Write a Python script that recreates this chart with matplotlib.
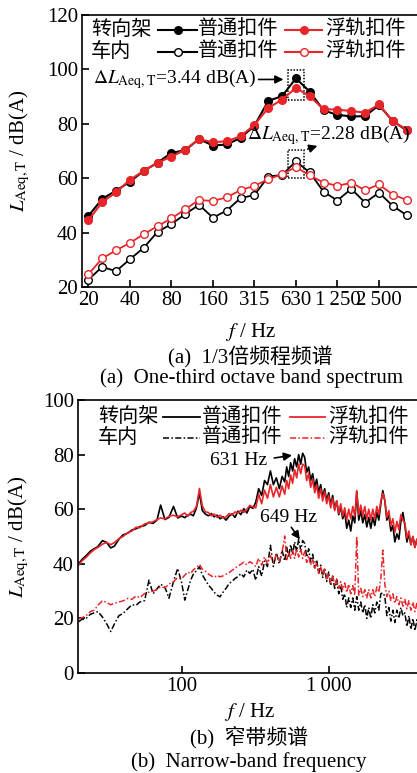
import matplotlib
matplotlib.use('Agg')
import matplotlib.pyplot as plt
from matplotlib.lines import Line2D
from matplotlib.patches import Rectangle
from matplotlib.ticker import NullLocator

plt.rcParams['font.family'] = ['Liberation Serif', 'Noto Sans CJK SC']
plt.rcParams['mathtext.fontset'] = 'stix'

RED = '#e8262a'

# (a) 1/3 octave band spectrum
bands = ['20', '25', '31.5', '40', '50', '63', '80', '100', '125', '160', '200', '250',
         '315', '400', '500', '630', '800', '1000', '1250', '1600', '2000', '2500', '3150', '4000']
band_ticks = ['20', '40', '80', '160', '315', '630', '1250', '2500']
band_tick_labels = ['20', '40', '80', '160', '315', '630', '1\u2009250', '2\u2009500']
bogie_std = [46.1, 52.4, 55.4, 58.7, 62.7, 65.7, 69.3, 70.3, 74.4, 72.0, 72.4, 74.8,
             79.3, 88.4, 90.2, 96.7, 91.8, 84.9, 83.3, 82.7, 82.8, 86.9, 81.0, 77.6]
bogie_float = [44.5, 51.2, 54.8, 59.4, 62.7, 65.7, 67.9, 70.5, 74.4, 73.2, 73.6, 75.4,
               79.6, 85.8, 88.9, 93.2, 90.1, 85.4, 85.2, 84.7, 84.1, 87.1, 80.9, 77.9]
car_std = [22.7, 27.4, 25.8, 30.2, 34.4, 40.3, 43.1, 46.8, 50.2, 45.5, 48.1, 52.7,
           53.8, 60.6, 61.2, 66.2, 62.1, 55.0, 51.8, 56.1, 51.0, 54.7, 49.8, 46.4]
car_float = [24.7, 30.5, 33.5, 36.2, 39.4, 42.4, 45.2, 48.6, 52.0, 51.6, 53.0, 55.6,
             57.2, 59.6, 61.5, 64.1, 61.0, 58.4, 57.2, 58.3, 55.6, 57.7, 54.0, 52.0]

# (b) narrow band spectrum
nb_freq = [20, 21, 22.5, 24, 25.5, 27, 29, 31, 33, 35,
           37.5, 40, 43, 46, 49, 52, 56, 60, 64, 68,
           72, 77, 82, 88, 94, 100, 105, 110, 115, 120,
           126, 132, 138, 145, 152, 159, 166, 174, 182, 191,
           200, 210, 220, 230, 241, 252, 264, 277, 290, 304,
           318, 333, 349, 365, 382, 400, 419, 439, 460, 480,
           500, 516, 532, 549, 566, 584, 603, 622, 642, 662,
           683, 705, 727, 750, 774, 799, 824, 850, 877, 905,
           934, 964, 994, 1026, 1058, 1092, 1127, 1163, 1200, 1238,
           1277, 1318, 1360, 1403, 1448, 1494, 1541, 1590, 1641, 1693,
           1747, 1803, 1860, 1919, 1980, 2043, 2108, 2175, 2244, 2316,
           2390, 2466, 2544, 2625, 2709, 2795, 2884, 2976, 3070, 3168,
           3269, 3373, 3480, 3591, 3705, 3823, 3945, 4070]
nb_bogie_std = [40.0, 41.5, 43.0, 44.6, 45.5, 46.3, 48.5, 47.8, 45.8, 46.5,
                49.0, 50.6, 51.2, 52.4, 52.8, 53.6, 54.0, 55.2, 54.8, 56.0,
                61.5, 56.2, 57.0, 61.0, 56.8, 57.5, 56.9, 57.8, 58.2, 57.6,
                60.5, 66.0, 59.5, 58.2, 57.6, 58.4, 57.2, 57.8, 56.5, 57.2,
                56.0, 57.5, 58.3, 57.0, 59.3, 58.0, 60.2, 58.6, 61.0, 60.3,
                62.5, 67.5, 65.0, 70.5, 69.0, 74.0, 69.0, 71.5, 67.5, 72.0,
                70.0, 75.5, 72.0, 77.0, 74.0, 78.5, 75.5, 80.0, 76.5, 80.5,
                79.0, 73.5, 75.5, 70.5, 73.0, 68.0, 71.0, 66.0, 69.0, 64.5,
                67.5, 63.0, 66.0, 61.5, 65.0, 60.0, 63.0, 58.0, 61.0, 56.5,
                59.0, 53.0, 56.0, 52.0, 57.5, 55.0, 66.5, 56.0, 59.5, 55.0,
                58.0, 53.5, 57.0, 53.0, 57.0, 54.0, 59.0, 56.0, 62.0, 66.8,
                63.0, 56.0, 58.0, 52.0, 54.0, 48.0, 51.0, 49.0, 55.5, 58.8,
                54.0, 48.0, 51.0, 47.0, 50.0, 46.0, 49.0, 46.0]
nb_bogie_float = [39.5, 41.0, 42.4, 44.0, 45.2, 46.0, 47.2, 47.8, 47.0, 47.8,
                  49.2, 50.0, 51.4, 52.0, 53.4, 53.2, 54.6, 55.0, 55.4, 56.2,
                  56.8, 56.4, 57.4, 57.8, 57.2, 58.0, 58.6, 57.4, 58.8, 59.2,
                  61.0, 67.6, 61.2, 59.0, 58.8, 57.6, 58.2, 57.0, 57.8, 56.8,
                  57.2, 58.4, 57.8, 59.0, 58.6, 59.6, 58.8, 60.0, 61.4, 60.8,
                  60.5, 65.5, 62.0, 67.0, 64.0, 69.0, 64.5, 68.0, 64.5, 68.5,
                  65.5, 70.5, 67.5, 72.5, 69.5, 74.5, 71.5, 76.5, 73.0, 76.5,
                  76.0, 70.5, 73.0, 68.0, 71.0, 66.0, 69.0, 64.0, 67.5, 63.0,
                  66.5, 62.0, 65.0, 60.5, 64.0, 59.5, 63.0, 58.5, 62.0, 57.5,
                  60.5, 56.0, 60.0, 56.5, 61.0, 57.5, 66.8, 58.0, 61.5, 57.5,
                  61.0, 56.5, 60.0, 56.0, 60.0, 56.5, 61.0, 58.0, 63.0, 65.8,
                  63.5, 57.0, 59.5, 54.0, 56.5, 51.5, 55.5, 52.5, 58.0, 56.0,
                  55.0, 49.5, 52.0, 47.0, 50.0, 46.0, 49.0, 46.0]
nb_car_std = [18.8, 19.6, 20.0, 21.5, 22.0, 22.5, 20.5, 18.0, 15.2, 18.0,
              21.0, 21.8, 23.5, 25.0, 24.8, 26.0, 26.5, 34.0, 29.0, 30.8,
              32.5, 31.4, 27.4, 33.5, 38.3, 33.0, 26.7, 30.5, 34.0, 36.2,
              37.5, 38.9, 36.0, 34.0, 32.2, 31.0, 29.6, 28.5, 27.9, 29.6,
              31.0, 32.8, 33.6, 34.6, 35.3, 36.4, 35.2, 37.7, 36.5, 38.0,
              34.0, 39.0, 35.5, 41.0, 39.0, 46.8, 39.0, 44.0, 40.0, 45.0,
              41.0, 46.0, 42.5, 47.0, 43.5, 48.0, 44.5, 49.0, 45.0, 48.5,
              47.5, 42.5, 45.5, 40.5, 43.5, 38.5, 41.5, 36.5, 39.5, 35.0,
              38.5, 33.5, 37.0, 32.0, 35.5, 31.0, 34.0, 29.0, 32.0, 27.0,
              29.0, 24.0, 27.5, 24.0, 27.5, 23.0, 28.0, 23.0, 26.0, 22.0,
              25.0, 20.0, 24.0, 20.0, 25.0, 22.0, 26.0, 23.0, 29.0, 29.4,
              28.0, 21.0, 24.0, 19.0, 23.0, 18.5, 23.0, 20.0, 24.0, 21.0,
              22.0, 17.0, 21.0, 16.0, 20.0, 15.5, 19.5, 15.5]
nb_car_float = [19.8, 20.2, 21.0, 22.5, 23.0, 24.8, 26.5, 25.8, 25.0, 25.6,
                26.0, 26.4, 27.3, 27.0, 28.2, 27.6, 29.1, 29.6, 30.0, 30.6,
                31.6, 31.2, 32.6, 33.4, 35.0, 34.6, 35.8, 37.0, 36.4, 37.8,
                38.6, 39.8, 38.0, 37.2, 36.2, 35.6, 35.0, 35.8, 35.2, 35.6,
                36.2, 36.8, 37.6, 38.4, 39.2, 39.8, 40.6, 39.6, 40.8, 40.0,
                39.0, 42.0, 39.5, 42.5, 40.0, 43.0, 40.5, 43.5, 41.0, 44.0,
                50.2, 41.5, 44.5, 42.0, 45.0, 42.0, 45.5, 42.5, 45.5, 42.0,
                44.5, 40.5, 43.0, 39.5, 41.5, 38.0, 40.5, 36.5, 39.0, 35.5,
                38.0, 34.5, 36.5, 33.0, 35.5, 32.0, 34.5, 31.0, 33.5, 30.5,
                33.0, 29.5, 32.5, 29.0, 32.0, 28.5, 50.0, 28.5, 31.0, 28.0,
                30.5, 27.5, 30.5, 27.5, 30.5, 28.0, 31.5, 29.5, 34.5, 45.0,
                32.5, 28.0, 30.0, 26.5, 29.0, 25.5, 28.0, 25.0, 27.5, 24.5,
                27.0, 23.5, 26.5, 23.0, 26.0, 22.5, 25.5, 22.5]

W, H = 417, 773
fig = plt.figure(figsize=(W / 100, H / 100), dpi=100)

def fx(x):
    return x / W

def fy(y):
    return 1 - y / H

FS_TICK = 15
FS_CAP = 15
FS_LEG = 14.5
FS_ANN = 14
ylab = r'$L_{\mathrm{Aeq,T}}$ / dB(A)'
DASHDOT = (4, 1.5, 1, 1.5)

# ---------- top panel ----------
ax1 = fig.add_axes([fx(82), fy(287), fx(417) - fx(82), fy(15) - fy(287)])
xi = list(range(len(bands)))
ax1.plot(xi, bogie_std, '-o', color='k', lw=1.5, ms=5.5)
ax1.plot(xi, bogie_float, '-o', color=RED, lw=1.5, ms=5.5)
ax1.plot(xi, car_std, '-o', color='k', mfc='white', lw=1.3, ms=5.5)
ax1.plot(xi, car_float, '-o', color=RED, mfc='white', lw=1.3, ms=5.5)
ax1.set_xlim(-0.46, 23.75)
ax1.set_ylim(20, 120)
ax1.set_yticks([20, 40, 60, 80, 100, 120])
ax1.set_xticks([bands.index(b) for b in band_ticks])
ax1.set_xticklabels(band_tick_labels)
ax1.spines['right'].set_visible(False)

ax1.add_patch(Rectangle((14.45, 88.9), 1.14, 10.9, fill=False, ec='k', lw=1.1, ls=(0, (1, 1))))
ax1.add_patch(Rectangle((14.45, 60.0), 1.14, 10.4, fill=False, ec='k', lw=1.1, ls=(0, (1, 1))))
ax1.annotate('', xy=(14.3, 96.3), xytext=(12.1, 96.3),
             arrowprops=dict(arrowstyle='-|>', color='k', lw=1.2, mutation_scale=12))
ax1.text(0.34, 96.3, r'$\Delta L_{\mathrm{Aeq,T}}$=3.44 dB(A)', fontsize=FS_ANN, va='center')
ax1.annotate('', xy=(16.74, 72.2), xytext=(15.66, 70.4),
             arrowprops=dict(arrowstyle='-|>', color='k', lw=1.2, mutation_scale=12))
ax1.text(11.45, 75.8, r'$\Delta L_{\mathrm{Aeq,T}}$=2.28 dB(A)', fontsize=FS_ANN, va='center')

# ---------- bottom panel ----------
ax2 = fig.add_axes([fx(78), fy(673), fx(417) - fx(78), fy(400) - fy(673)])
ax2.set_xscale('log')
ax2.plot(nb_freq, nb_bogie_std, color='k', lw=1.2)
ax2.plot(nb_freq, nb_bogie_float, color=RED, lw=1.2)
ax2.plot(nb_freq, nb_car_std, color='k', lw=1.1, dashes=DASHDOT)
ax2.plot(nb_freq, nb_car_float, color=RED, lw=1.1, dashes=DASHDOT)
ax2.set_xlim(19.8, 3950)
ax2.set_ylim(0, 100)
ax2.set_yticks([0, 20, 40, 60, 80, 100])
ax2.set_xticks([100, 1000])
ax2.set_xticklabels(['100', '1\u2009000'])
ax2.xaxis.set_minor_locator(NullLocator())
ax2.spines['right'].set_visible(False)
ax2.annotate('', xy=(585, 79.9), xytext=(407, 78.6),
             arrowprops=dict(arrowstyle='-|>', color='k', lw=1.2, mutation_scale=12))
ax2.text(382, 78.0, '631 Hz', fontsize=FS_ANN, ha='right', va='center')
ax2.annotate('', xy=(650, 48.1), xytext=(541, 54.2),
             arrowprops=dict(arrowstyle='-|>', color='k', lw=1.2, mutation_scale=12))
ax2.text(339, 57.1, '649 Hz', fontsize=FS_ANN, ha='left', va='center')

for ax in (ax1, ax2):
    ax.tick_params(direction='in', length=5, width=1.2, labelsize=FS_TICK, pad=3)
    for s in ax.spines.values():
        s.set_linewidth(1.2)

# ---------- legends (drawn by hand) ----------
def handle(x0, x1, y, color, **kw):
    fig.add_artist(Line2D([fx(x0), fx(x1)], [fy(y), fy(y)], color=color, **kw))

def marker(x, y, color, face):
    fig.add_artist(Line2D([fx(x)], [fy(y)], marker='o', ms=5.5, color=color, mfc=face, lw=0))

for y, row, face in [(30, '转向架', None), (52, '车内', 'white')]:
    fig.text(fx(91), fy(y), row, fontsize=FS_LEG, va='center')
    handle(158, 197, y, 'k', lw=1.5)
    marker(177.5, y, 'k', face if face else 'k')
    fig.text(fx(198), fy(y), '普通扣件', fontsize=FS_LEG, va='center')
    handle(285, 322, y, RED, lw=1.5)
    marker(303.5, y, RED, face if face else RED)
    fig.text(fx(325), fy(y), '浮轨扣件', fontsize=FS_LEG, va='center')

for y, row, dash in [(417, '转向架', None), (438, '车内', DASHDOT)]:
    fig.text(fx(98), fy(y), row, fontsize=FS_LEG, va='center')
    kw = dict(lw=1.3) if dash is None else dict(lw=1.1, dashes=dash)
    handle(163, 200, y, 'k', **kw)
    fig.text(fx(202), fy(y), '普通扣件', fontsize=FS_LEG, va='center')
    handle(290, 325, y, RED, **kw)
    fig.text(fx(328), fy(y), '浮轨扣件', fontsize=FS_LEG, va='center')

# ---------- axis titles and captions ----------
fig.text(fx(20), fy(151), ylab, rotation=90, fontsize=FS_CAP, ha='center', va='center')
fig.text(fx(19), fy(537), ylab, rotation=90, fontsize=FS_CAP, ha='center', va='center')
fig.text(fx(250), fy(332), r'$f$ / Hz', fontsize=FS_CAP, ha='center', va='center')
fig.text(fx(250), fy(357), '(a)  1/3倍频程频谱', fontsize=FS_CAP, ha='center', va='center')
fig.text(fx(251), fy(378), '(a)  One-third octave band spectrum', fontsize=FS_CAP, ha='center', va='center')
fig.text(fx(249), fy(712), r'$f$ / Hz', fontsize=FS_CAP, ha='center', va='center')
fig.text(fx(249), fy(737), '(b)  窄带频谱', fontsize=FS_CAP, ha='center', va='center')
fig.text(fx(249), fy(762), '(b)  Narrow-band frequency', fontsize=FS_CAP, ha='center', va='center')

fig.savefig('out.png', dpi=100)
